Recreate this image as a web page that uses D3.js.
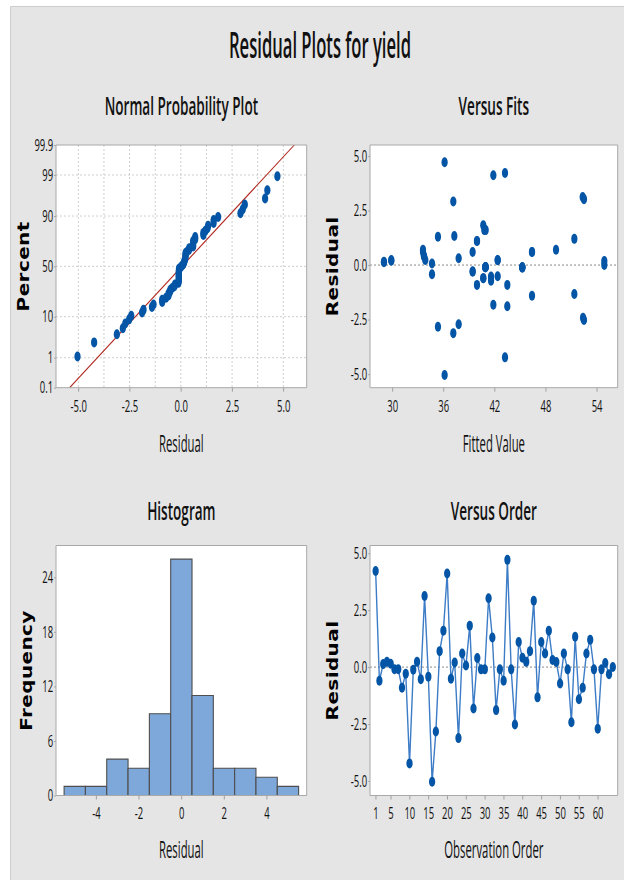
<!DOCTYPE html>
<html>
<head>
<meta charset="utf-8">
<script src="https://cdnjs.cloudflare.com/ajax/libs/d3/7.8.5/d3.min.js"></script>
<style>
html, body { margin: 0; padding: 0; background: #fff; }
svg { display: block; }
</style>
</head>
<body>
<svg id="chart"></svg>
<script>
var residuals = [
    4.22, -0.60, 0.13, 0.23, 0.15, -0.09, -0.09, -0.91, -0.29, -4.23,
    -0.12, 0.23, -0.53, 3.12, -0.42, -5.04, -2.83, 0.70, 1.60, 4.11,
    -0.51, 0.20, -3.12, 0.60, 0.07, 1.82, -1.82, 0.40, -0.10, -0.10,
    3.02, 1.30, -1.89, -0.10, -0.60, 4.71, -0.10, -2.52, 1.10, 0.41,
    0.23, 0.70, 2.91, -1.33, 1.10, 0.60, 1.60, 0.31, 0.22, -0.72,
    0.60, -0.10, -2.42, 1.33, -1.41, -0.91, 0.60, 1.20, -0.10, -2.71,
    -0.10, 0.18, -0.31, 0.00
];

// fitted values in the same order, matched from the "Versus Fits" panel
var fits = [
    43.23, 40.68, 29.02, 29.88, 29.02, 40.96, 40.96, 39.94, 39.43, 43.23,
    45.26, 42.37, 41.59, 52.35, 34.66, 36.14, 35.36, 49.22, 40.80, 41.86,
    42.37, 29.88, 37.16, 39.43, 34.66, 40.68, 41.86, 33.72, 40.92, 40.92,
    52.50, 35.36, 43.50, 40.92, 40.68, 36.14, 45.26, 52.50, 39.94, 33.72,
    33.87, 33.60, 37.16, 51.37, 39.94, 46.40, 40.96, 37.79, 42.37, 41.59,
    46.40, 45.26, 52.39, 37.28, 46.40, 43.50, 33.60, 51.37, 45.26, 37.79,
    40.92, 54.89, 39.43, 54.89
];

var pctTicks = [0.1, 1, 10, 50, 90, 99, 99.9];
var pctGrid = [1, 10, 50, 90, 99];
var resTicks = [-5, -2.5, 0, 2.5, 5];
var resGrid = [-5, -3.75, -2.5, -1.25, 0, 1.25, 2.5, 3.75, 5];
var fitTicks = [30, 36, 42, 48, 54];
var histTicks = [-4, -2, 0, 2, 4];
var freqTicks = [0, 6, 12, 18, 24];
var binEdges = [-5.5, -4.5, -3.5, -2.5, -1.5, -0.5, 0.5, 1.5, 2.5, 3.5, 4.5, 5.5];
var orderTicks = [1, 5, 10, 15, 20, 25, 30, 35, 40, 45, 50, 55, 60];

var W = 624, H = 880,
    SX = 0.624,            // the whole picture is squeezed sideways
    VW = W / SX,
    FONT = "'Open Sans', 'Noto Sans', sans-serif",
    BOLD = "'DejaVu Sans', Verdana, sans-serif",
    DOT = '#0455a6';

var px = function px(x) { return x / SX; };

// inverse normal cdf (Acklam)
var qnorm = function qnorm(p) {
    var a = [-39.69683028665376, 220.9460984245205, -275.9285104469687, 138.3577518672690, -30.66479806614716, 2.506628277459239],
        b = [-54.47609879822406, 161.5858368580409, -155.6989798598866, 66.80131188771972, -13.28068155288572],
        c = [-0.007784894002430293, -0.3223964580411365, -2.400758277161838, -2.549732539343734, 4.374664141464968, 2.938163982698783],
        d = [0.007784695709041462, 0.3224671290700398, 2.445134137142996, 3.754408661907416],
        q, r;
    if (p < 0.02425) {
        q = Math.sqrt(-2 * Math.log(p));
        return (((((c[0] * q + c[1]) * q + c[2]) * q + c[3]) * q + c[4]) * q + c[5]) /
            ((((d[0] * q + d[1]) * q + d[2]) * q + d[3]) * q + 1);
    }
    if (p > 1 - 0.02425) {
        return -qnorm(1 - p);
    }
    q = p - 0.5;
    r = q * q;
    return (((((a[0] * r + a[1]) * r + a[2]) * r + a[3]) * r + a[4]) * r + a[5]) * q /
        (((((b[0] * r + b[1]) * r + b[2]) * r + b[3]) * r + b[4]) * r + 1);
};

var svg = d3.select('#chart')
    .attr('width', W)
    .attr('height', H)
    .attr('viewBox', '0 0 ' + VW + ' ' + H)
    .attr('preserveAspectRatio', 'none');

// text that is narrowed a bit more than the rest of the picture
var label = function label(g, x, y, str, size, k, weight) {
    return g.append('text')
        .attr('transform', 'translate(' + x + ',' + y + ') scale(' + k + ',1)')
        .attr('text-anchor', 'middle')
        .attr('font-family', FONT)
        .attr('font-size', size)
        .attr('font-weight', weight)
        .attr('fill', '#111')
        .text(str);
};

svg.append('rect')
    .attr('x', px(10.5))
    .attr('y', 6.5)
    .attr('width', VW)
    .attr('height', H)
    .attr('fill', '#e5e5e5')
    .attr('stroke', '#cdcdcd')
    .attr('vector-effect', 'non-scaling-stroke');

label(svg, px(320), 58, 'Residual Plots for yield', 36, 0.74, 600);

// frame, titles and axes for one panel; returns the group to draw in
var makePanel = function makePanel(p) {
    var g = svg.append('g'),
        cx = px((p.left + p.right) / 2),
        cy = (p.top + p.bottom) / 2;

    g.append('rect')
        .attr('x', px(p.left))
        .attr('y', p.top)
        .attr('width', px(p.right - p.left))
        .attr('height', p.bottom - p.top)
        .attr('fill', '#fff');

    label(g, cx, p.titleY, p.title, 25, 0.87, 600);
    label(g, cx, p.xLabelY, p.xLabel, 23, 0.79, 500);

    g.append('text')
        .attr('transform', 'translate(' + px(p.yLabelX) + ',' + cy + ') scale(1.2,1) rotate(-90)')
        .attr('dy', '0.36em')
        .attr('text-anchor', 'middle')
        .attr('font-family', BOLD)
        .attr('font-weight', 'bold')
        .attr('font-size', 20)
        .attr('letter-spacing', 0.4)
        .text(p.yLabel);

    var gx = g.append('g')
        .attr('transform', 'translate(0,' + p.bottom + ')')
        .call(d3.axisBottom(p.x).tickValues(p.xTicks).tickFormat(p.xFormat).tickSize(4).tickPadding(p.xPad));

    var gy = g.append('g')
        .attr('transform', 'translate(' + px(p.left) + ',0)')
        .call(d3.axisLeft(p.y).tickValues(p.yTicks).tickFormat(p.yFormat).tickSize(3).tickPadding(2));

    [gx, gy].forEach(function (a) {
        a.select('.domain').remove();
        a.attr('font-family', FONT).attr('font-size', 16.5).attr('font-weight', 500);
        a.selectAll('line')
            .attr('stroke', '#a0a0a0')
            .attr('vector-effect', 'non-scaling-stroke');
        a.selectAll('text')
            .attr('fill', '#111')
            .attr('transform', 'scale(0.92,1)');
    });

    var plot = g.append('g');

    g.append('rect')
        .attr('x', px(p.left))
        .attr('y', p.top)
        .attr('width', px(p.right - p.left))
        .attr('height', p.bottom - p.top)
        .attr('fill', 'none')
        .attr('stroke', '#a8a8a8')
        .attr('vector-effect', 'non-scaling-stroke');

    return plot;
};

var fmt1 = d3.format('.1f'),
    fmtMinus = function (d) { return fmt1(d).replace('\u2212', '-'); },
    plain = function (d) { return String(d); };

// ---- Normal Probability Plot
var n = residuals.length,
    zLo = qnorm(0.001),
    zHi = qnorm(0.999),
    mu = d3.mean(residuals),
    sigma = d3.deviation(residuals);

var npX = d3.scaleLinear().domain([-6.09, 6.14]).range([px(56), px(306.7)]),
    npY = d3.scaleLinear().domain([zLo, zHi]).range([387.7, 145]);

var np = makePanel({
    left: 56, right: 306.7, top: 145, bottom: 387.7,
    title: 'Normal Probability Plot', titleY: 115,
    xLabel: 'Residual', xLabelY: 452,
    yLabel: 'Percent', yLabelX: 24,
    x: npX, xTicks: resTicks, xFormat: fmtMinus, xPad: 9,
    y: npY, yTicks: pctTicks.map(function (p) { return qnorm(p / 100); }),
    yFormat: function (d, i) { return String(pctTicks[i]); }
});

np.selectAll('.gx')
    .data(resGrid)
  .enter().append('line')
    .attr('x1', npX).attr('x2', npX)
    .attr('y1', 145).attr('y2', 387.7)
    .attr('stroke', '#cfcfcf')
    .attr('stroke-dasharray', '2,2')
    .attr('vector-effect', 'non-scaling-stroke');

np.selectAll('.gy')
    .data(pctGrid)
  .enter().append('line')
    .attr('x1', px(56)).attr('x2', px(306.7))
    .attr('y1', function (d) { return npY(qnorm(d / 100)); })
    .attr('y2', function (d) { return npY(qnorm(d / 100)); })
    .attr('stroke', '#cfcfcf')
    .attr('stroke-dasharray', '2,2')
    .attr('vector-effect', 'non-scaling-stroke');

np.append('line')
    .attr('x1', npX(mu + sigma * zLo))
    .attr('y1', npY(zLo))
    .attr('x2', npX(mu + sigma * zHi))
    .attr('y2', npY(zHi))
    .attr('stroke', '#b0241c')
    .attr('stroke-width', 1.1)
    .attr('vector-effect', 'non-scaling-stroke');

var sorted = residuals.slice().sort(d3.ascending);

np.selectAll('.dot')
    .data(sorted)
  .enter().append('circle')
    .attr('cx', function (d) { return npX(d); })
    .attr('cy', function (d, i) { return npY(qnorm((i + 1 - 0.3) / (n + 0.4))); })
    .attr('r', 5)
    .attr('fill', DOT);

// ---- Versus Fits
var vfX = d3.scaleLinear().domain([27.38, 56.46]).range([px(370), px(617.7)]),
    vfY = d3.scaleLinear().domain([-5.62, 5.5]).range([387.7, 145]);

var vf = makePanel({
    left: 370, right: 617.7, top: 145, bottom: 387.7,
    title: 'Versus Fits', titleY: 115,
    xLabel: 'Fitted Value', xLabelY: 452,
    yLabel: 'Residual', yLabelX: 333,
    x: vfX, xTicks: fitTicks, xFormat: plain, xPad: 9,
    y: vfY, yTicks: resTicks, yFormat: fmtMinus
});

vf.append('line')
    .attr('x1', px(370)).attr('x2', px(617.7))
    .attr('y1', vfY(0)).attr('y2', vfY(0))
    .attr('stroke', '#8a8a8a')
    .attr('stroke-dasharray', '2,2')
    .attr('vector-effect', 'non-scaling-stroke');

vf.selectAll('.dot')
    .data(residuals)
  .enter().append('circle')
    .attr('cx', function (d, i) { return vfX(fits[i]); })
    .attr('cy', function (d) { return vfY(d); })
    .attr('r', 5)
    .attr('fill', DOT);

// ---- Histogram
var hX = d3.scaleLinear().domain([-5.88, 5.88]).range([px(56), px(306.7)]),
    hY = d3.scaleLinear().domain([0, 27.5]).range([795.5, 545.5]);

var bins = d3.bin()
    .domain([binEdges[0], binEdges[binEdges.length - 1]])
    .thresholds(binEdges.slice(1, -1))(residuals);

var hist = makePanel({
    left: 56, right: 306.7, top: 545.5, bottom: 795.5,
    title: 'Histogram', titleY: 520,
    xLabel: 'Residual', xLabelY: 858,
    yLabel: 'Frequency', yLabelX: 26.7,
    x: hX, xTicks: histTicks, xFormat: plain, xPad: 8,
    y: hY, yTicks: freqTicks, yFormat: plain
});

hist.selectAll('.bar')
    .data(bins)
  .enter().append('rect')
    .attr('x', function (d) { return hX(d.x0); })
    .attr('y', function (d) { return hY(d.length); })
    .attr('width', function (d) { return hX(d.x1) - hX(d.x0); })
    .attr('height', function (d) { return hY(0) - hY(d.length); })
    .attr('fill', '#7ea8da')
    .attr('stroke', '#4e4e4e')
    .attr('stroke-width', 1.1)
    .attr('vector-effect', 'non-scaling-stroke');

// ---- Versus Order
var voX = d3.scaleLinear().domain([-0.5, 65.3]).range([px(370), px(617.7)]),
    voY = d3.scaleLinear().domain([-5.64, 5.34]).range([795.5, 545.5]);

var vo = makePanel({
    left: 370, right: 617.7, top: 545.5, bottom: 795.5,
    title: 'Versus Order', titleY: 520,
    xLabel: 'Observation Order', xLabelY: 858,
    yLabel: 'Residual', yLabelX: 333,
    x: voX, xTicks: orderTicks, xFormat: plain, xPad: 8,
    y: voY, yTicks: resTicks, yFormat: fmtMinus
});

vo.append('line')
    .attr('x1', px(370)).attr('x2', px(617.7))
    .attr('y1', voY(0)).attr('y2', voY(0))
    .attr('stroke', '#8a8a8a')
    .attr('stroke-dasharray', '2,2')
    .attr('vector-effect', 'non-scaling-stroke');

vo.append('path')
    .datum(residuals)
    .attr('d', d3.line()
        .x(function (d, i) { return voX(i + 1); })
        .y(function (d) { return voY(d); }))
    .attr('fill', 'none')
    .attr('stroke', '#3d7cc6')
    .attr('stroke-width', 1.4)
    .attr('vector-effect', 'non-scaling-stroke');

vo.selectAll('.dot')
    .data(residuals)
  .enter().append('circle')
    .attr('cx', function (d, i) { return voX(i + 1); })
    .attr('cy', function (d) { return voY(d); })
    .attr('r', 5)
    .attr('fill', DOT);
</script>
</body>
</html>
